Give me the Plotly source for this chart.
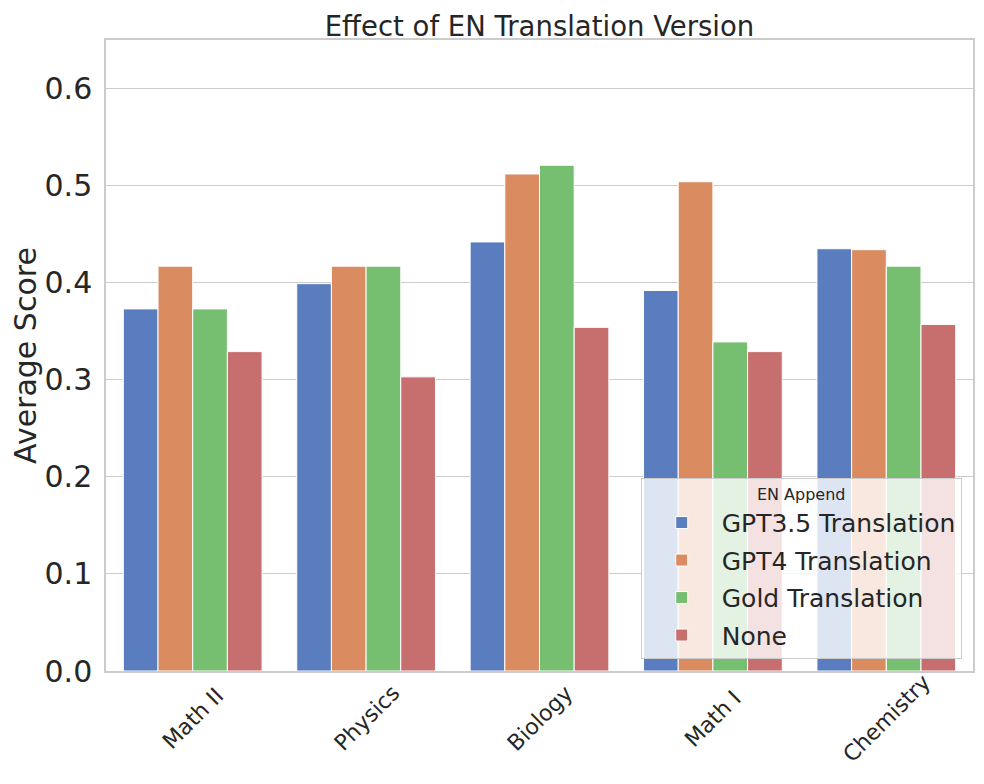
import plotly.graph_objects as go

# subjects and scores per EN append variant
subjects = ['Math II', 'Physics', 'Biology', 'Math I', 'Chemistry']
gpt35 = [0.373, 0.399, 0.442, 0.392, 0.435]
gpt4 = [0.417, 0.417, 0.512, 0.504, 0.434]
gold = [0.373, 0.417, 0.521, 0.339, 0.417]
none = [0.329, 0.303, 0.354, 0.329, 0.357]

series = [
    ('GPT3.5 Translation', gpt35, '#597DBF'),
    ('GPT4 Translation', gpt4, '#DA8B5F'),
    ('Gold Translation', gold, '#76BF71'),
    ('None', none, '#C76E6E'),
]

txt = '#262626'
fnt = 'DejaVu Sans'

fig = go.Figure()
for name, vals, col in series:
    fig.add_trace(go.Bar(
        x=subjects, y=vals, name=name, legendgroup=name,
        marker=dict(color=col, line=dict(color='white', width=1)),
    ))

# rotated category labels, centred under each group like matplotlib
for s in subjects:
    fig.add_annotation(x=s, xref='x', y=0, yref='paper', yshift=-47,
                       text=s, showarrow=False, textangle=-45,
                       xanchor='center', yanchor='middle',
                       font=dict(size=22, color=txt, family=fnt))

# page body adds ~8px offset, margins compensate for it
fig.update_layout(
    width=984, height=784,
    margin=dict(l=98, r=19, t=32, b=121),
    paper_bgcolor='white', plot_bgcolor='white',
    font=dict(family=fnt, color=txt),
    barmode='group', bargap=0.2, bargroupgap=0,
    title=dict(text='Effect of EN Translation Version', x=0.5, xref='paper',
               xanchor='center', y=1 - 18 / 784, yanchor='middle',
               font=dict(size=27.5, color=txt)),
    xaxis=dict(showticklabels=False, showgrid=False, showline=True, mirror=True,
               linecolor='#cccccc', linewidth=1.5, ticks=''),
    yaxis=dict(range=[0, 0.65], dtick=0.1, tickformat='.1f', showgrid=True,
               gridcolor='#cccccc', gridwidth=1.3, showline=True, mirror=True,
               linecolor='#cccccc', linewidth=1.5, ticks='', zeroline=False,
               automargin=False,
               ticklabelstandoff=6, tickfont=dict(size=30, color=txt),
               title=dict(text='Average Score', font=dict(size=30, color=txt),
                          standoff=13)),
    legend=dict(title=dict(text='EN Append', side='top center',
                           font=dict(size=16, color=txt)),
                x=0.987, y=0.019, xanchor='right', yanchor='bottom',
                bgcolor='rgba(255,255,255,0.8)', bordercolor='#cccccc',
                borderwidth=1, font=dict(size=25, color=txt),
                itemwidth=70, tracegroupgap=2),
)

fig.write_html('out.html')
